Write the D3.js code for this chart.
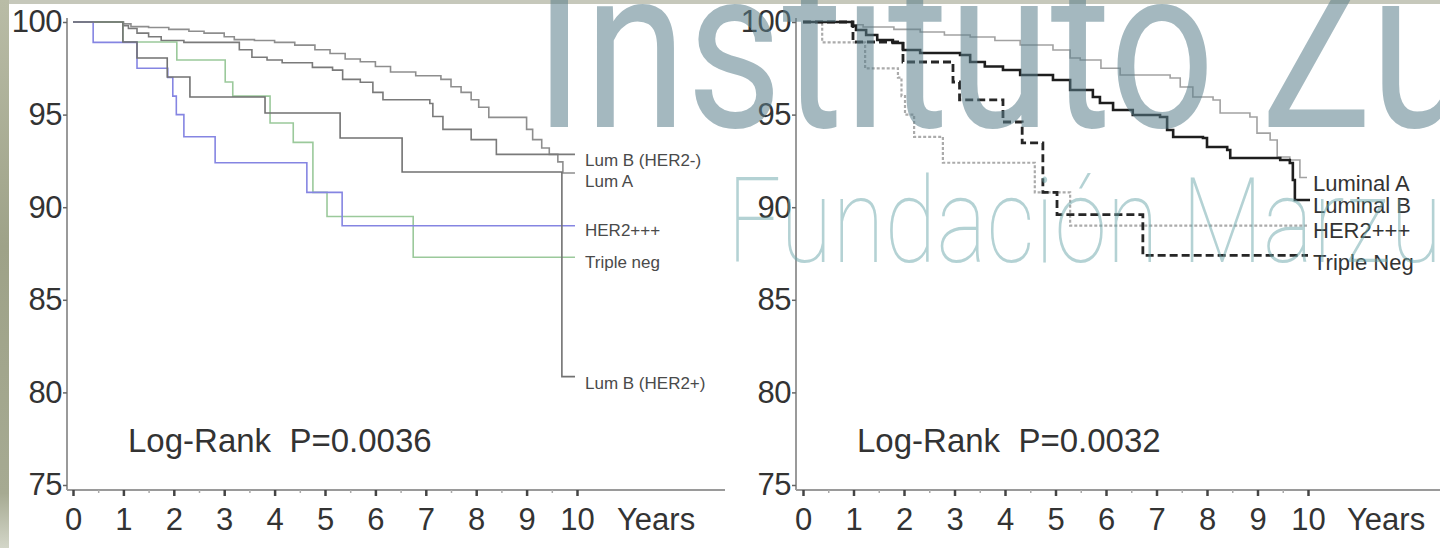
<!DOCTYPE html>
<html>
<head>
<meta charset="utf-8">
<script src="https://cdn.jsdelivr.net/npm/d3@7"></script>
<style>
  body { margin: 0; background: #fff; }
  svg { display: block; font-family: "Liberation Sans", Arial, sans-serif; }
  .tick text { fill: #333; }
</style>
</head>
<body>
<svg id="chart" width="1440" height="548"></svg>
<script>
// ---- data: [years, % survival] at each step ----
var yTicks = [75, 80, 85, 90, 95, 100];
var xTicks = [0, 1, 2, 3, 4, 5, 6, 7, 8, 9, 10];

// left panel
var lumA_L = [[0,100],[1.0,99.9],[1.15,99.75],[1.5,99.7],[1.9,99.6],[2.3,99.5],[2.6,99.4],[3.0,99.2],[3.2,99.05],[3.6,99.0],[4.0,98.9],[4.4,98.75],[4.8,98.5],[5.1,98.3],[5.4,98.0],[5.7,97.85],[6.0,97.6],[6.3,97.3],[6.8,97.1],[7.3,96.9],[7.5,96.5],[7.7,96.2],[7.9,95.8],[8.05,95.4],[8.25,94.85],[9.0,94.2],[9.12,93.65],[9.3,93.2],[9.45,92.85],[9.62,92.45],[9.72,91.85],[9.96,91.85]];
var lumBneg_L = [[0,100],[1.0,99.8],[1.1,99.65],[1.27,99.4],[1.5,99.2],[1.75,99.0],[2.2,98.9],[3.3,98.5],[3.55,98.1],[3.85,97.95],[4.15,97.8],[4.75,97.55],[5.15,97.4],[5.35,96.9],[5.7,96.75],[5.95,96.2],[6.15,95.8],[7.08,95.6],[7.14,94.9],[7.34,94.2],[7.9,93.65],[8.4,92.85],[9.96,92.85]];
var lumBpos_L = [[0,100],[0.99,98.92],[1.27,98.06],[1.87,97.03],[2.32,95.95],[3.81,95.09],[5.30,93.74],[6.53,91.9],[9.70,80.85],[9.96,80.85]];
var her2_L = [[0,100],[0.4,98.9],[1.27,97.5],[1.88,97.0],[1.98,96.0],[2.05,95.0],[2.2,93.8],[2.82,92.4],[4.64,90.8],[5.34,89.0],[9.96,89.0]];
var triple_L = [[0,100],[0.99,98.92],[2.06,97.95],[3.02,96.76],[3.17,96.0],[3.91,94.55],[4.37,93.5],[4.76,90.8],[5.04,89.5],[6.75,87.3],[9.96,87.3]];

// right panel
var lumA_R = [[0,100],[0.99,99.85],[1.19,99.73],[1.8,99.6],[2.32,99.46],[2.8,99.3],[3.31,99.19],[3.8,99.0],[4.30,98.76],[4.95,98.49],[5.29,98.06],[5.49,97.95],[5.9,97.5],[6.28,97.14],[7.27,96.98],[7.47,96.49],[7.72,95.95],[8.12,95.79],[8.26,95.09],[8.85,94.87],[8.99,94.0],[9.25,93.63],[9.39,92.71],[9.64,92.55],[9.84,91.6],[9.98,91.6]];
var lumB_R = [[0,100],[0.97,99.8],[1.05,99.57],[1.25,99.3],[1.47,99.03],[1.78,98.87],[1.98,98.49],[2.32,98.33],[3.11,98.22],[3.31,97.84],[3.6,97.6],[3.96,97.41],[4.30,97.14],[4.95,96.87],[5.29,96.33],[5.74,95.95],[5.88,95.63],[6.14,95.25],[6.53,94.98],[7.07,94.87],[7.21,94.17],[7.33,93.79],[7.92,93.74],[8.0,93.25],[8.40,93.09],[8.46,92.66],[9.45,92.55],[9.64,92.39],[9.70,91.47],[9.74,90.39],[10.04,90.39]];
var her2_R = [[0,100],[0.38,98.9],[1.23,97.5],[1.88,97.0],[1.95,96.0],[2.02,95.0],[2.2,93.8],[2.77,92.4],[4.59,90.8],[5.29,89.0],[9.98,89.0]];
var triple_R = [[0,100],[0.99,98.92],[1.98,97.84],[2.97,96.76],[3.1,95.8],[3.96,94.6],[4.34,93.47],[4.75,90.8],[5.03,89.6],[6.73,87.4],[10.0,87.4]];

var pValues = ['Log-Rank  P=0.0036', 'Log-Rank  P=0.0032'];

var svg = d3.select('#chart');

// ---- frame of the scanned figure ----
var defs = svg.append('defs');
var edge = defs.append('linearGradient').attr('id', 'edge')
  .attr('x1', 0).attr('y1', 0).attr('x2', 0).attr('y2', 1);
edge.append('stop').attr('offset', 0).attr('stop-color', '#b9bca6');
edge.append('stop').attr('offset', 0.45).attr('stop-color', '#9ea288');
edge.append('stop').attr('offset', 0.9).attr('stop-color', '#a6aa92');
edge.append('stop').attr('offset', 1).attr('stop-color', '#d3d6c8');

svg.append('rect').attr('x', 0).attr('y', 0).attr('width', 1440).attr('height', 4).attr('fill', '#c6c8bb');
svg.append('rect').attr('x', 0).attr('y', 0).attr('width', 9).attr('height', 548).attr('fill', 'url(#edge)');

// ---- panels ----
var panels = [
  {
    left: 73, right: 577, axisX: 67, axisEnd: 725, yearsX: 617, pX: 128,
    labelX: 585, labelSize: 17, labelFill: '#4a4a4a',
    series: [
      { data: lumA_L, stroke: '#8e8e8e', width: 1.6, dash: null, label: 'Lum A', ly: 187 },
      { data: lumBneg_L, stroke: '#7a7a7a', width: 1.6, dash: null, label: 'Lum B (HER2-)', ly: 166 },
      { data: triple_L, stroke: '#9bc99b', width: 1.6, dash: null, label: 'Triple neg', ly: 268 },
      { data: her2_L, stroke: '#8585e2', width: 1.6, dash: null, label: 'HER2+++', ly: 236 },
      { data: lumBpos_L, stroke: '#727272', width: 1.6, dash: null, label: 'Lum B (HER2+)', ly: 389 }
    ]
  },
  {
    left: 803, right: 1308, axisX: 796, axisEnd: 1440, yearsX: 1347, pX: 857,
    labelX: 1313, labelSize: 22, labelFill: '#333',
    series: [
      { data: lumA_R, stroke: '#a2a2a2', width: 1.6, dash: null, label: 'Luminal A', ly: 191 },
      { data: her2_R, stroke: '#ababab', width: 2.2, dash: '3,2', label: 'HER2+++', ly: 238 },
      { data: triple_R, stroke: '#262626', width: 2.8, dash: '8,4', label: 'Triple Neg', ly: 270 },
      { data: lumB_R, stroke: '#1e1e1e', width: 2.6, dash: null, label: 'Luminal B', ly: 213 }
    ]
  }
];

var axisY = 490;

panels.forEach(function (p, i) {
  var x = d3.scaleLinear().domain([0, 10]).range([p.left, p.right]);
  var y = d3.scaleLinear().domain([75, 100]).range([485, 22]);
  var g = svg.append('g');

  // axis lines
  g.append('line').attr('x1', p.axisX).attr('x2', p.axisX).attr('y1', 18).attr('y2', axisY)
    .attr('stroke', '#9a9a9a').attr('stroke-width', 2);
  g.append('line').attr('x1', p.axisX).attr('x2', p.axisEnd).attr('y1', axisY).attr('y2', axisY)
    .attr('stroke', '#9a9a9a').attr('stroke-width', 2);

  // y axis
  var ya = g.append('g').attr('transform', 'translate(' + p.axisX + ',0)')
    .call(d3.axisLeft(y).tickValues(yTicks).tickSize(4).tickPadding(1));
  ya.select('.domain').remove();
  ya.selectAll('.tick line').attr('stroke', '#666').attr('stroke-width', 1.5);
  ya.selectAll('.tick text').attr('font-size', 31).attr('letter-spacing', -0.5);

  // x axis, minor then major
  var xm = g.append('g').attr('transform', 'translate(0,' + axisY + ')')
    .call(d3.axisBottom(x).tickValues(d3.range(0.5, 10, 1)).tickSize(3).tickFormat(''));
  xm.select('.domain').remove();
  xm.selectAll('.tick line').attr('stroke', '#aaa').attr('stroke-width', 1.5);

  var xa = g.append('g').attr('transform', 'translate(0,' + axisY + ')')
    .call(d3.axisBottom(x).tickValues(xTicks).tickSize(6).tickPadding(12));
  xa.select('.domain').remove();
  xa.selectAll('.tick line').attr('stroke', '#444').attr('stroke-width', 2.5);
  xa.selectAll('.tick text').attr('font-size', 31);

  g.append('text').attr('x', p.yearsX).attr('y', 530)
    .attr('font-size', 31).attr('fill', '#333').text('Years');

  // survival curves
  var line = d3.line()
    .x(function (d) { return x(d[0]); })
    .y(function (d) { return y(d[1]); })
    .curve(d3.curveStepAfter);

  p.series.forEach(function (s) {
    g.append('path').datum(s.data)
      .attr('d', line)
      .attr('fill', 'none')
      .attr('stroke', s.stroke)
      .attr('stroke-width', s.width)
      .attr('stroke-dasharray', s.dash);
    g.append('text')
      .attr('x', p.labelX).attr('y', s.ly)
      .attr('font-size', p.labelSize).attr('fill', p.labelFill)
      .text(s.label);
  });

  g.append('text').attr('x', p.pX).attr('y', 452)
    .attr('font-size', 33).attr('fill', '#333')
    .style('white-space', 'pre')
    .text(pValues[i]);
});

// ---- watermark ----
var wm1 = svg.append('text')
  .attr('font-family', 'Roboto, "Open Sans", sans-serif')
  .attr('font-weight', 400).attr('font-size', 228)
  .attr('fill', '#5a7d8a').attr('fill-opacity', 0.55)
  .text('Instituto Zunino');
var s1 = 836 / wm1.node().getSubStringLength(0, 11);
wm1.attr('transform', 'translate(534,127) scale(' + s1 + ',1)');

var wm2 = svg.append('text')
  .attr('font-family', 'Roboto, "Open Sans", sans-serif')
  .attr('font-weight', 100).attr('font-size', 118)
  .attr('fill', '#69a5aa').attr('fill-opacity', 0.5)
  .text('Fundación Marzullo');
var s2 = 536 / wm2.node().getSubStringLength(0, 11);
wm2.attr('transform', 'translate(727,262) scale(' + s2 + ',1)');
</script>
</body>
</html>
